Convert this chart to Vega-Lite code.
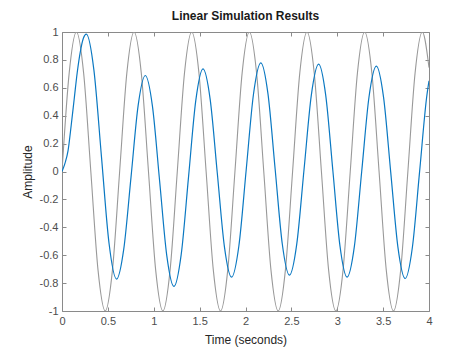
{
  "$schema": "https://vega.github.io/schema/vega-lite/v6.json",
  "width": 367,
  "height": 279,
  "autosize": {"type": "none"},
  "padding": {"left": 62, "top": 32, "right": 45, "bottom": 44},
  "background": "white",
  "title": {"text": "Linear Simulation Results", "fontSize": 12, "fontWeight": "bold", "font": "Liberation Sans", "color": "#1a1a1a", "anchor": "middle", "offset": 3},
  "config": {
    "view": {"stroke": null},
    "font": "Liberation Sans",
    "axis": {"grid": false, "domainColor": "#8a8a8a", "tickColor": "#8a8a8a", "domainWidth": 1, "tickWidth": 1, "labelFont": "Liberation Sans", "titleFont": "Liberation Sans", "labelFontSize": 11, "titleFontSize": 12, "labelColor": "#4d4d4d", "titleColor": "#262626", "titleFontWeight": "normal"}
  },
  "datasets": {
    "input": [
      {"t": 0, "v": 0}, {"t": 0.0785, "v": 0.7071}, {"t": 0.1571, "v": 1}, {"t": 0.2356, "v": 0.7071},
      {"t": 0.3142, "v": 0}, {"t": 0.3927, "v": -0.7071}, {"t": 0.4712, "v": -1}, {"t": 0.5498, "v": -0.7071},
      {"t": 0.6283, "v": 0}, {"t": 0.7069, "v": 0.7071}, {"t": 0.7854, "v": 1}, {"t": 0.8639, "v": 0.7071},
      {"t": 0.9425, "v": 0}, {"t": 1.0210, "v": -0.7071}, {"t": 1.0996, "v": -1}, {"t": 1.1781, "v": -0.7071},
      {"t": 1.2566, "v": 0}, {"t": 1.3352, "v": 0.7071}, {"t": 1.4137, "v": 1}, {"t": 1.4923, "v": 0.7071},
      {"t": 1.5708, "v": 0}, {"t": 1.6493, "v": -0.7071}, {"t": 1.7279, "v": -1}, {"t": 1.8064, "v": -0.7071},
      {"t": 1.8850, "v": 0}, {"t": 1.9635, "v": 0.7071}, {"t": 2.0420, "v": 1}, {"t": 2.1206, "v": 0.7071},
      {"t": 2.1991, "v": 0}, {"t": 2.2777, "v": -0.7071}, {"t": 2.3562, "v": -1}, {"t": 2.4347, "v": -0.7071},
      {"t": 2.5133, "v": 0}, {"t": 2.5918, "v": 0.7071}, {"t": 2.6704, "v": 1}, {"t": 2.7489, "v": 0.7071},
      {"t": 2.8274, "v": 0}, {"t": 2.9060, "v": -0.7071}, {"t": 2.9845, "v": -1}, {"t": 3.0631, "v": -0.7071},
      {"t": 3.1416, "v": 0}, {"t": 3.2201, "v": 0.7071}, {"t": 3.2987, "v": 1}, {"t": 3.3772, "v": 0.7071},
      {"t": 3.4558, "v": 0}, {"t": 3.5343, "v": -0.7071}, {"t": 3.6128, "v": -1}, {"t": 3.6914, "v": -0.7071},
      {"t": 3.7699, "v": 0}, {"t": 3.8485, "v": 0.7071}, {"t": 3.9270, "v": 1}, {"t": 4.0, "v": 0.745}
    ],
    "response": [
      {"t": 0, "v": 0}, {"t": 0.033, "v": 0.06}, {"t": 0.066, "v": 0.15}, {"t": 0.1, "v": 0.33},
      {"t": 0.133, "v": 0.52}, {"t": 0.166, "v": 0.71}, {"t": 0.2, "v": 0.86}, {"t": 0.233, "v": 0.955},
      {"t": 0.265, "v": 0.985}, {"t": 0.3475, "v": 0.728}, {"t": 0.43, "v": 0.107}, {"t": 0.5125, "v": -0.514},
      {"t": 0.595, "v": -0.771}, {"t": 0.673, "v": -0.557}, {"t": 0.752, "v": -0.042}, {"t": 0.83, "v": 0.474},
      {"t": 0.908, "v": 0.688}, {"t": 0.986, "v": 0.467}, {"t": 1.064, "v": -0.068}, {"t": 1.142, "v": -0.603},
      {"t": 1.22, "v": -0.824}, {"t": 1.299, "v": -0.596}, {"t": 1.3785, "v": -0.044}, {"t": 1.458, "v": 0.508},
      {"t": 1.537, "v": 0.736}, {"t": 1.615, "v": 0.517}, {"t": 1.6925, "v": -0.011}, {"t": 1.77, "v": -0.538},
      {"t": 1.848, "v": -0.757}, {"t": 1.928, "v": -0.532}, {"t": 2.0075, "v": 0.011}, {"t": 2.087, "v": 0.554},
      {"t": 2.167, "v": 0.779}, {"t": 2.245, "v": 0.556}, {"t": 2.323, "v": 0.018}, {"t": 2.401, "v": -0.52},
      {"t": 2.479, "v": -0.743}, {"t": 2.5585, "v": -0.521}, {"t": 2.638, "v": 0.014}, {"t": 2.7175, "v": 0.548},
      {"t": 2.797, "v": 0.77}, {"t": 2.8745, "v": 0.546}, {"t": 2.952, "v": 0.007}, {"t": 3.0295, "v": -0.533},
      {"t": 3.107, "v": -0.757}, {"t": 3.187, "v": -0.535}, {"t": 3.2665, "v": 0.0}, {"t": 3.346, "v": 0.534},
      {"t": 3.426, "v": 0.756}, {"t": 3.5045, "v": 0.533}, {"t": 3.583, "v": -0.006}, {"t": 3.6615, "v": -0.544},
      {"t": 3.74, "v": -0.767}, {"t": 3.819, "v": -0.543}, {"t": 3.8975, "v": -0.001}, {"t": 3.976, "v": 0.541},
      {"t": 4.0, "v": 0.65}
    ]
  },
  "layer": [
    {
      "data": {"name": "input"},
      "mark": {"type": "line", "color": "#999999", "strokeWidth": 1.1, "interpolate": "monotone", "clip": true},
      "encoding": {
        "x": {"field": "t", "type": "quantitative", "scale": {"domain": [0, 4], "nice": false},
          "axis": {"orient": "bottom", "title": "Time (seconds)", "values": [0, 0.5, 1, 1.5, 2, 2.5, 3, 3.5, 4], "labelExpr": "toString(datum.value)", "tickSize": -4, "labelPadding": 8, "titlePadding": 8, "labelFlush": false}},
        "y": {"field": "v", "type": "quantitative", "scale": {"domain": [-1, 1], "nice": false, "zero": false},
          "axis": {"orient": "left", "title": "Amplitude", "values": [-1, -0.8, -0.6, -0.4, -0.2, 0, 0.2, 0.4, 0.6, 0.8, 1], "labelExpr": "toString(datum.value)", "tickSize": -4, "labelPadding": 8, "titlePadding": 5, "labelFlush": false}}
      }
    },
    {
      "data": {"name": "response"},
      "mark": {"type": "line", "color": "#0a78c2", "strokeWidth": 1.2, "interpolate": "monotone", "clip": true},
      "encoding": {
        "x": {"field": "t", "type": "quantitative",
          "axis": {"orient": "top", "title": null, "labels": false, "values": [0, 0.5, 1, 1.5, 2, 2.5, 3, 3.5, 4], "tickSize": -4}},
        "y": {"field": "v", "type": "quantitative",
          "axis": {"orient": "right", "title": null, "labels": false, "values": [-1, -0.8, -0.6, -0.4, -0.2, 0, 0.2, 0.4, 0.6, 0.8, 1], "tickSize": -4}}
      }
    }
  ],
  "resolve": {"axis": {"x": "independent", "y": "independent"}}
}
